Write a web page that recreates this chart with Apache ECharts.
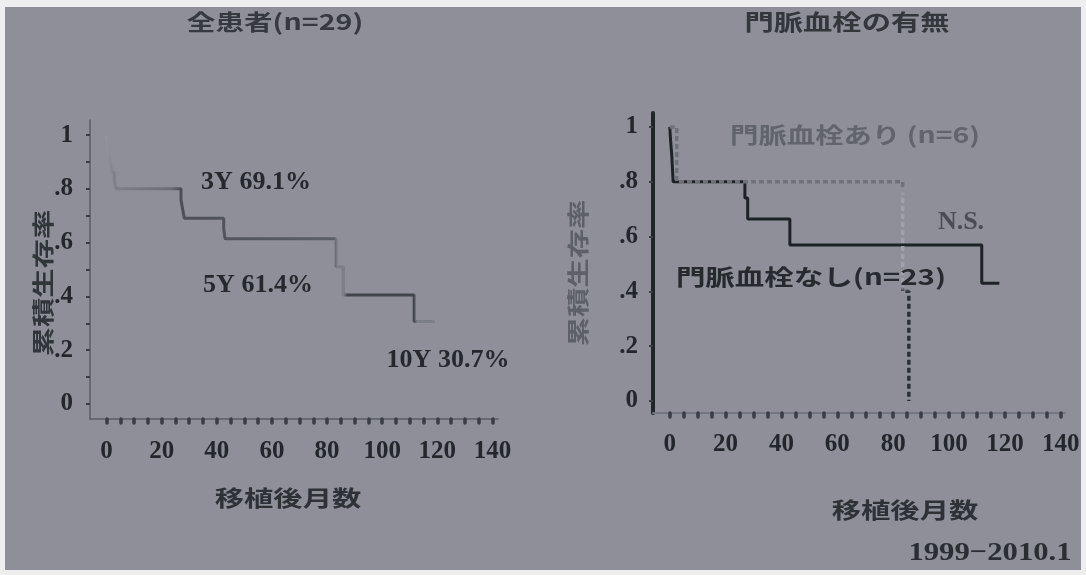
<!DOCTYPE html>
<html><head><meta charset="utf-8">
<script src="https://cdn.jsdelivr.net/npm/echarts@6/dist/echarts.min.js"></script>
<style>
html,body{margin:0;padding:0;background:#eeeef0;overflow:hidden}
#wrap{position:relative;width:1086px;height:575px;background:#eeeef0}
#slide{position:absolute;left:5px;top:7px;width:1076px;height:563px;background:#8e8f99}
#chart{position:absolute;left:0;top:0;width:1086px;height:575px}
</style></head><body>
<div id="wrap"><div id="slide"></div><div id="chart"></div></div>
<script>
// ---- Data ----
// Left: all patients (n=29)
const allMonths = [0, 0.4, 0.8, 1.3, 2, 2.8, 3.5, 27, 27.6, 28.2, 42.5, 43, 83.3, 85.8, 111.6, 119];
const allSurv   = [1, 0.966, 0.931, 0.897, 0.862, 0.828, 0.8, 0.759, 0.725, 0.691, 0.652, 0.614, 0.51, 0.405, 0.307, 0.307];
// Right: portal vein thrombosis absent (n=23)
const noPvtMonths = [0, 0.3, 0.7, 1.2, 26.9, 27.9, 43, 111.7, 118];
const noPvtSurv   = [1, 0.95, 0.9, 0.8, 0.741, 0.664, 0.569, 0.43, 0.43];
// Right: portal vein thrombosis present (n=6)
const pvtMonths = [0, 2.5, 83.4, 85.6];
const pvtSurv   = [1, 0.8, 0.4, 0];

// Axis ticks / labels
const xLabelValues = [0, 20, 40, 60, 80, 100, 120, 140];
const xLabelTexts  = ['0', '20', '40', '60', '80', '100', '120', '140'];
const xTickValues  = [0, 5, 10, 15, 20, 25, 30, 35, 40, 45, 50, 55, 60, 65, 70, 75, 80, 85, 90, 95, 100, 105, 110, 115, 120, 125, 130, 135, 140];
const yLabelValues = [0, 0.2, 0.4, 0.6, 0.8, 1];
const yLabelTexts  = ['0', '.2', '.4', '.6', '.8', '1'];
const yTickValuesLeft  = [0, 0.1, 0.2, 0.3, 0.4, 0.5, 0.6, 0.7, 0.8, 0.9, 1];
const yTickValuesRight = [0, 0.2, 0.4, 0.6, 0.8, 1];

// Texts
const leftTitle = '全患者(n=29)';
const rightTitle = '門脈血栓の有無';
const yName = '累積生存率';
const xName = '移植後月数';
const annot3Y = '3Y 69.1%';
const annot5Y = '5Y 61.4%';
const annot10Y = '10Y 30.7%';
const legendWith = '門脈血栓あり (n=6)';
const legendWithout = '門脈血栓なし(n=23)';
const nsText = 'N.S.';
const footnote = '1999−2010.1';

const SERIF = "'Liberation Serif','DejaVu Serif',serif";
const CJK = "'Noto Sans CJK JP','Noto Sans CJK SC',sans-serif";

const zip = (xs, ys) => xs.map((x, i) => [x, ys[i]]);
const xFmt = v => { const i = xLabelValues.indexOf(Math.round(v)); return i >= 0 ? xLabelTexts[i] : ''; };
const yFmt = v => { const i = yLabelValues.findIndex(t => Math.abs(t - v) < 1e-6); return i >= 0 ? yLabelTexts[i] : ''; };

const labelStyle = { fontFamily: SERIF, fontWeight: 'bold', fontSize: 25, color: '#23272c' };

function xAxisCfg(gridIndex, min, max, lineColor, lineWidth, margin) {
  return {
    type: 'value', gridIndex, min, max,
    splitLine: { show: false },
    axisLine: { show: true, onZero: false, lineStyle: { color: lineColor, width: lineWidth } },
    axisTick: { show: true, customValues: xTickValues, length: 4, lineStyle: { color: '#3a3d45', width: 3.5, cap: 'round' } },
    axisLabel: Object.assign({ customValues: xLabelValues, formatter: xFmt, margin }, labelStyle)
  };
}
function yAxisCfg(gridIndex, min, max, lineColor, lineWidth, ticks, margin) {
  return {
    type: 'value', gridIndex, min, max,
    splitLine: { show: false },
    axisLine: { show: true, onZero: false, lineStyle: { color: lineColor, width: lineWidth } },
    axisTick: { show: true, customValues: ticks, length: 4, lineStyle: { color: '#3a3d45', width: 2 } },
    axisLabel: Object.assign({ customValues: yLabelValues, formatter: yFmt, margin }, labelStyle)
  };
}

function txt(text, x, y, opt) {
  return {
    type: 'text', x, y, scaleX: opt.scaleX || 1, rotation: opt.rotation || 0,
    z: 100,
    style: {
      text, fill: opt.color || '#2a2e33',
      fontFamily: opt.family || CJK, fontWeight: 'bold', fontSize: opt.size || 22,
      align: 'center', verticalAlign: 'middle'
    }
  };
}

const leftGradient = new echarts.graphic.LinearGradient(0, 0, 1, 0, [
  { offset: 0, color: '#9a9ba3' }, { offset: 0.03, color: '#7e8089' },
  { offset: 0.2, color: '#6d6f78' }, { offset: 0.23, color: '#4d4f58' },
  { offset: 0.69, color: '#5c5e68' }, { offset: 0.70, color: '#7c7e88' },
  { offset: 0.72, color: '#7c7e88' }, { offset: 0.73, color: '#42444c' },
  { offset: 0.93, color: '#42444c' }, { offset: 0.94, color: '#7d7f88' },
  { offset: 1, color: '#7d7f88' }
]);
const pvtGradient = new echarts.graphic.LinearGradient(0, 0, 0, 1, [
  { offset: 0, color: '#6e707a' }, { offset: 0.22, color: '#6e707a' },
  { offset: 0.25, color: '#a0a2aa' }, { offset: 0.58, color: '#a0a2aa' },
  { offset: 0.6, color: '#2a3035' }, { offset: 1, color: '#2a3035' }
]);

const chart = echarts.init(document.getElementById('chart'), null, { renderer: 'canvas' });
chart.setOption({
  animation: false,
  backgroundColor: 'transparent',
  grid: [
    { left: 90, top: 120, width: 408, height: 299 },
    { left: 653, top: 113, width: 412, height: 300 }
  ],
  xAxis: [
    xAxisCfg(0, -6, 142, '#5a5d68', 1.5, 20),
    xAxisCfg(1, -6, 141.5, '#737683', 2, 19)
  ],
  yAxis: [
    yAxisCfg(0, -0.056, 1.056, '#5a5d68', 1.5, yTickValuesLeft, 17),
    yAxisCfg(1, -0.044, 1.051, '#1f2528', 4, yTickValuesRight, 15)
  ],
  series: [
    { type: 'line', name: leftTitle, xAxisIndex: 0, yAxisIndex: 0, step: 'end', showSymbol: false,
      data: zip(allMonths, allSurv), lineStyle: { width: 3, color: leftGradient } },
    { type: 'line', name: legendWithout, xAxisIndex: 1, yAxisIndex: 1, step: 'end', showSymbol: false,
      data: zip(noPvtMonths, noPvtSurv), lineStyle: { width: 3, color: '#1d2226' } },
    { type: 'line', name: legendWith, xAxisIndex: 1, yAxisIndex: 1, step: 'end', showSymbol: false,
      data: zip(pvtMonths, pvtSurv), lineStyle: { width: 3.5, color: pvtGradient, type: [5, 3] } }
  ],
  graphic: [
    txt(leftTitle, 275, 22, { scaleX: 1.3, color: '#363a40' }),
    txt(rightTitle, 847, 22, { scaleX: 1.33, color: '#33373c' }),
    txt(yName, 43, 283, { scaleX: 1.33, rotation: Math.PI / 2, color: '#30353a' }),
    txt(yName, 578, 273, { scaleX: 1.33, rotation: Math.PI / 2, color: '#5d6068' }),
    txt(xName, 288, 498, { scaleX: 1.33, color: '#2e3237' }),
    txt(xName, 905, 510, { scaleX: 1.33, color: '#2e3237' }),
    txt(annot3Y, 256, 182, { family: SERIF, size: 26, color: '#25292e' }),
    txt(annot5Y, 258, 285, { family: SERIF, size: 26, color: '#25292e' }),
    txt(annot10Y, 448, 360, { family: SERIF, size: 26, color: '#25292e' }),
    txt(legendWith, 855, 135, { scaleX: 1.29, color: '#62646d' }),
    txt(legendWithout, 811, 277, { scaleX: 1.34, color: '#262a2f' }),
    txt(nsText, 961, 222, { family: SERIF, size: 26, color: '#4a4d55' }),
    txt(footnote, 990, 553, { family: SERIF, size: 26, scaleX: 1.18, color: '#2a2e33' })
  ]
});
</script>
</body></html>
